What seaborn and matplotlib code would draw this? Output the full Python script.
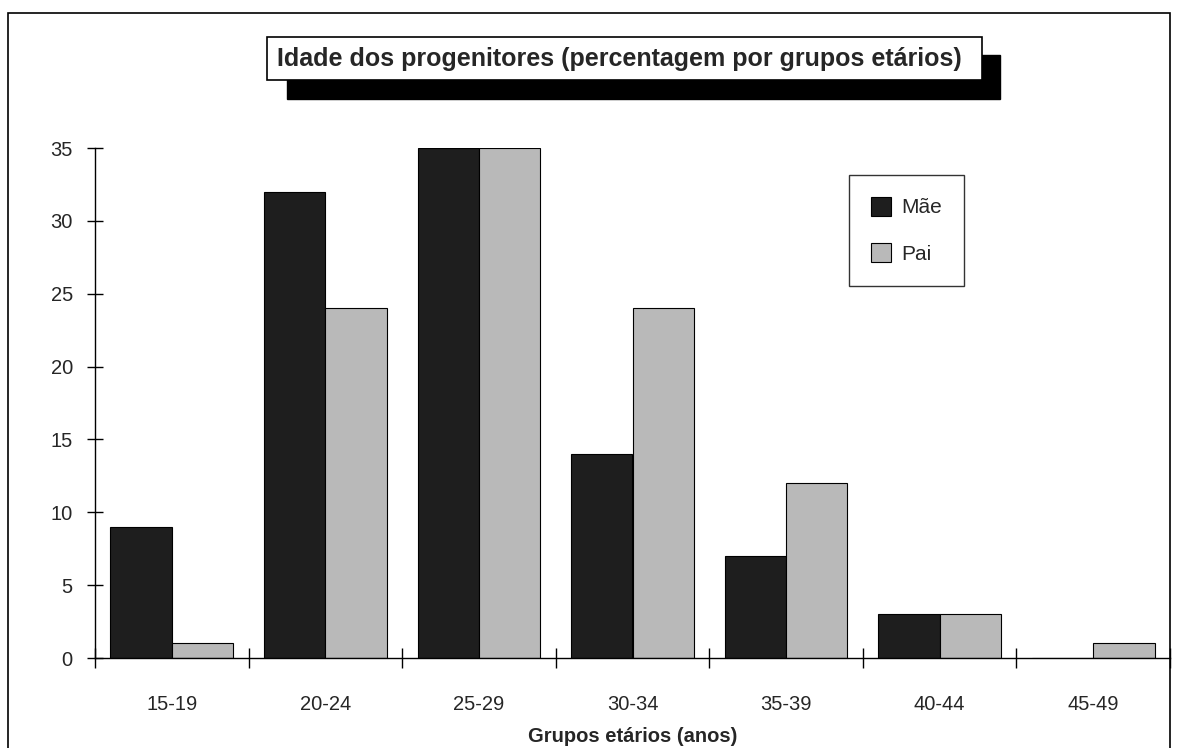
import numpy as np
import pandas as pd
import matplotlib
matplotlib.use("Agg")
import matplotlib.pyplot as plt
from matplotlib.patches import Rectangle
import seaborn as sns

# Data (percent per age group)
grupos = ["15-19", "20-24", "25-29", "30-34", "35-39", "40-44", "45-49"]
mae = [9, 32, 35, 14, 7, 3, 0]
pai = [1, 24, 35, 24, 12, 3, 1]
series = ["Mãe", "Pai"]
cores = ["#1e1e1e", "#b9b9b9"]

df = pd.DataFrame({
    "grupo": grupos * 2,
    "valor": mae + pai,
    "progenitor": [series[0]] * len(grupos) + [series[1]] * len(grupos),
})

sns.set_style("white")
plt.rcParams["font.family"] = ["Liberation Sans", "DejaVu Sans"]

W, H = 1178, 748
fig = plt.figure(figsize=(W / 100, H / 100), dpi=100)
fig.patch.set_facecolor("white")

# axes placed in pixel terms: x 95..1170, y 148..658
ax = fig.add_axes([95 / W, (H - 658) / H, (1170 - 95) / W, (658 - 148) / H])
sns.barplot(data=df, x="grupo", y="valor", hue="progenitor", palette=cores,
            width=0.8, edgecolor="black", linewidth=0.8, ax=ax, legend=True)

ax.set_ylim(0, 35)
ax.set_xlim(-0.5, len(grupos) - 0.5)
ax.set_yticks(range(0, 36, 5))
ax.tick_params(axis="y", left=True, direction="inout", length=12, width=1,
               color="black", labelsize=14.5, pad=10)
ax.tick_params(axis="x", which="major", bottom=True, length=0, labelsize=14.5, pad=27)
ax.set_xticks(np.arange(-0.5, len(grupos), 1.0), minor=True)
ax.tick_params(axis="x", which="minor", bottom=True, direction="inout",
               length=14, width=1, color="black")
for s in ["top", "right"]:
    ax.spines[s].set_visible(False)
for s in ["left", "bottom"]:
    ax.spines[s].set_color("black")
    ax.spines[s].set_linewidth(1)
ax.set_ylabel("")
ax.set_xlabel("Grupos etários (anos)", fontsize=14.5, fontweight="bold", labelpad=9)
ax.set_facecolor("none")

# legend box
leg = ax.legend(loc="upper left", bbox_to_anchor=(849 / W, 1 - 175 / H),
                bbox_transform=fig.transFigure, frameon=True, fancybox=False,
                fontsize=15, handlelength=0.95, handleheight=1.0,
                labelspacing=1.25, borderpad=1.05, handletextpad=0.5,
                borderaxespad=0)
leg.get_frame().set_edgecolor("black")
leg.get_frame().set_linewidth(1)

# outer frame
def px_rect(x0, y0, x1, y1, **kw):
    return Rectangle((x0 / W, 1 - y1 / H), (x1 - x0) / W, (y1 - y0) / H,
                     transform=fig.transFigure, **kw)

fig.patches.append(px_rect(8, 13, 1170, 760, fill=False, ec="black", lw=1.2))

# title box with drop shadow
fig.patches.append(px_rect(287, 55, 1000, 99, fc="black", ec="black", zorder=2))
fig.patches.append(px_rect(267, 37, 982, 80, fc="white", ec="black", lw=1.2, zorder=3))
fig.text((267 + 982) / 2 / W - 0.004, 1 - 59 / H,
         "Idade dos progenitores (percentagem por grupos etários)",
         ha="center", va="center", fontsize=18, fontweight="bold",
         family=["Liberation Sans Narrow", "Liberation Sans", "DejaVu Sans"],
         zorder=4)

fig.savefig("out.png", dpi=100, facecolor="white")
